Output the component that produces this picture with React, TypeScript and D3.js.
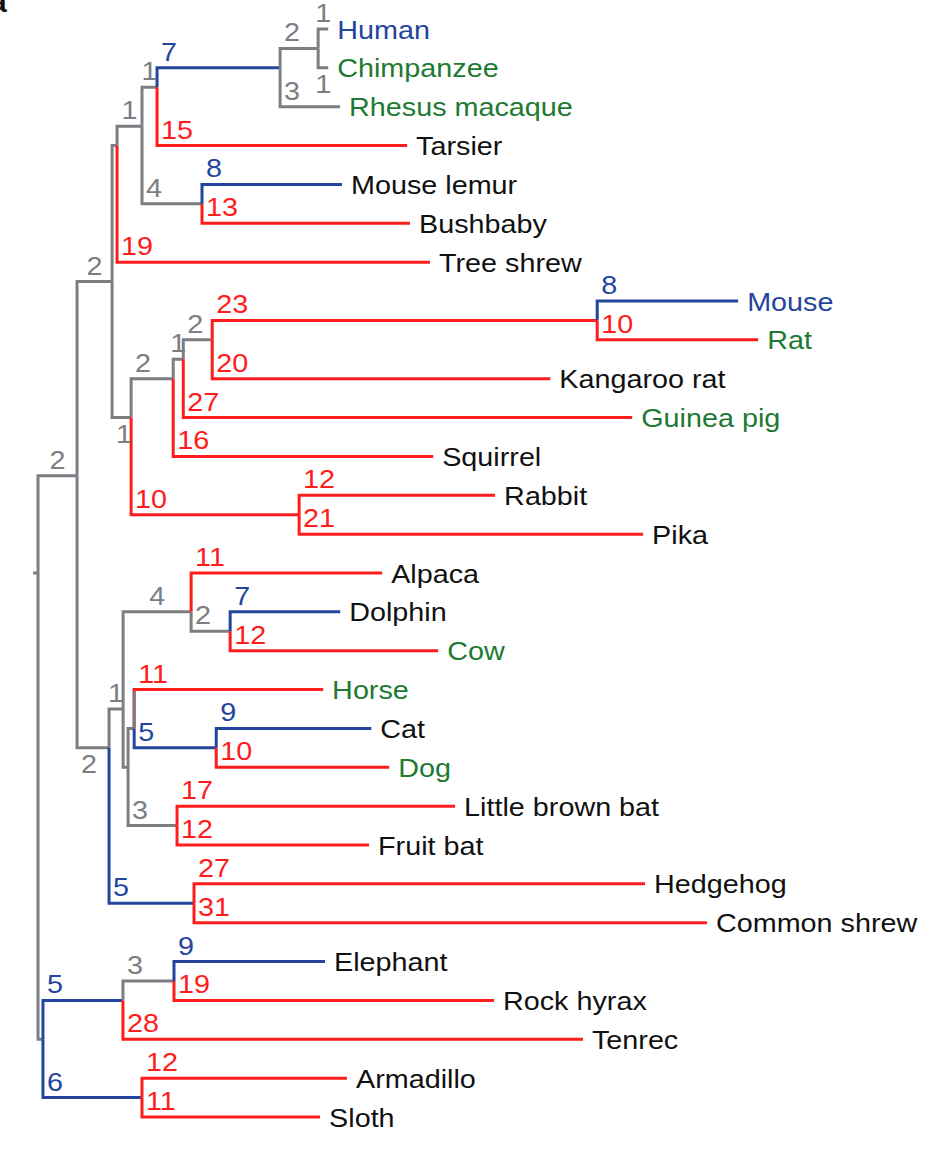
import React from "react";
import * as d3 from "d3";

// ---- Tree data (parallel arrays, DFS order) ----
const nodeIds = [
  "root", "Boreoeutheria", "Euarchontoglires", "Euarchonta", "Primates", "Haplorhini",
  "Anthropoidea", "Hominini", "Human", "Chimpanzee", "Rhesus macaque", "Tarsier",
  "Strepsirrhini", "Mouse lemur", "Bushbaby", "Tree shrew", "Glires", "Rodentia",
  "RodentiaA", "RodentiaB", "Murinae", "Mouse", "Rat", "Kangaroo rat", "Guinea pig",
  "Squirrel", "Lagomorpha", "Rabbit", "Pika", "Laurasiatheria", "Scrotifera",
  "Cetartiodactyla", "Alpaca", "Cetruminantia", "Dolphin", "Cow", "Fereuungulata",
  "Zooamata", "Horse", "Carnivora", "Cat", "Dog", "Chiroptera", "Little brown bat",
  "Fruit bat", "Eulipotyphla", "Hedgehog", "Common shrew", "Atlantogenata",
  "Afrotheria", "Paenungulata", "Elephant", "Rock hyrax", "Tenrec", "Xenarthra",
  "Armadillo", "Sloth",
];
const parentIds = [
  "", "root", "Boreoeutheria", "Euarchontoglires", "Euarchonta", "Primates",
  "Haplorhini", "Anthropoidea", "Hominini", "Hominini", "Anthropoidea", "Haplorhini",
  "Primates", "Strepsirrhini", "Strepsirrhini", "Euarchonta", "Euarchontoglires", "Glires",
  "Rodentia", "RodentiaA", "RodentiaB", "Murinae", "Murinae", "RodentiaB", "RodentiaA",
  "Rodentia", "Glires", "Lagomorpha", "Lagomorpha", "Boreoeutheria", "Laurasiatheria",
  "Scrotifera", "Cetartiodactyla", "Cetartiodactyla", "Cetruminantia", "Cetruminantia", "Scrotifera",
  "Fereuungulata", "Zooamata", "Zooamata", "Carnivora", "Carnivora", "Fereuungulata", "Chiroptera",
  "Chiroptera", "Laurasiatheria", "Eulipotyphla", "Eulipotyphla", "root",
  "Atlantogenata", "Afrotheria", "Paenungulata", "Paenungulata", "Afrotheria", "Atlantogenata",
  "Xenarthra", "Xenarthra",
];
const branchLengths = [
  0, 2.44, 2.19, 0.31, 1.56, 0.94,
  7.69, 2.38, 0.63, 0.63, 3.75, 15.63,
  3.75, 8.75, 13.0, 19.56, 1.19, 2.63,
  0.63, 1.81, 24.06, 8.81, 10.06, 21.13, 28.06,
  16.25, 10.5, 12.25, 21.5, 2.0, 0.88,
  4.25, 11.94, 2.44, 6.88, 13.0, 0.31,
  0.38, 11.81, 5.13, 9.69, 10.81, 3.06, 17.38,
  12.0, 5.31, 28.19, 32.06, 0.31,
  5.0, 3.19, 9.44, 20.0, 28.75, 6.19,
  12.81, 11.13,
];
const branchLabels = [
  "", "2", "2", "", "1", "1",
  "7", "2", "1", "1", "3", "15",
  "4", "8", "13", "19", "1", "2",
  "1", "2", "23", "8", "10", "20", "27",
  "16", "10", "12", "21", "2", "1",
  "4", "11", "2", "7", "12", "",
  "", "11", "5", "9", "10", "3", "17",
  "12", "5", "27", "31", "",
  "5", "3", "9", "19", "28", "6",
  "12", "11",
];
// g = gray, r = red, b = blue
const branchClasses = [
  "g", "g", "g", "g", "g", "g",
  "b", "g", "g", "g", "g", "r",
  "g", "b", "r", "r", "g", "g",
  "g", "g", "r", "b", "r", "r", "r",
  "r", "r", "r", "r", "g", "g",
  "g", "r", "g", "b", "r", "g",
  "g", "r", "b", "b", "r", "g", "r",
  "r", "b", "r", "r", "g",
  "b", "g", "b", "r", "r", "b",
  "r", "r",
];
// label placement: a = above, b = below, m = centred above, n = centred below
const labelPlaces = [
  "a", "m", "m", "a", "m", "m",
  "a", "a", "m", "n", "a", "a",
  "a", "a", "a", "a", "b", "a",
  "m", "a", "a", "a", "a", "a", "a",
  "a", "a", "a", "a", "b", "m",
  "m", "a", "a", "a", "a", "a",
  "a", "a", "a", "a", "a", "a", "a",
  "a", "a", "a", "a", "a",
  "a", "a", "a", "a", "a", "a",
  "a", "a",
];
const blueTaxa = ["Human", "Mouse"];
const greenTaxa = ["Chimpanzee", "Rhesus macaque", "Rat", "Guinea pig", "Cow", "Horse", "Dog"];
const grayConnectors = ["Horse"];

const COLORS: Record<string, string> = { g: "#7b7e83", r: "#ff1c1c", b: "#24459d" };
const GREEN = "#1e7a32";
const BLUE_TXT = "#24459d";
const FONT = "'Liberation Sans', Arial, Helvetica, sans-serif";
const SX = 1.15;

export default function App() {
  const table = nodeIds.map((id, i) => ({
    id,
    parent: parentIds[i],
    len: branchLengths[i],
    label: branchLabels[i],
    cls: branchClasses[i],
    place: labelPlaces[i],
  }));
  const root: any = d3
    .stratify<any>()
    .id((d: any) => d.id)
    .parentId((d: any) => d.parent)(table);

  root.eachBefore((n: any) => {
    n.dist = n.parent ? n.parent.dist + n.data.len : 0;
  });
  const xScale = d3.scaleLinear().domain([0, 45]).range([38, 758]);
  const leaves = root.leaves();
  const yScale = d3.scalePoint<string>().domain(leaves.map((l: any) => l.id)).range([29, 1117]);
  root.eachAfter((n: any) => {
    n.px = xScale(n.dist);
    n.py = n.children ? d3.mean(n.leaves(), (l: any) => yScale(l.id) as number) : (yScale(n.id) as number);
  });

  const nodes = root.descendants().filter((n: any) => n.parent);

  return (
    <div style={{ position: "absolute", left: 0, top: 0 }}>
      <svg width={931} height={1162} style={{ display: "block", background: "#fff" }} fontFamily={FONT}>
        <text x={-10} y={12} fontSize={30} fontWeight="bold" fill="#111">a</text>
        {/* root stub */}
        <path d={`M${root.px - 5},${root.py}H${root.px}`} stroke={COLORS.g} strokeWidth={3} fill="none" />
        {nodes.map((n: any) => (
          <path
            key={"b" + n.id}
            d={`M${n.parent.px},${n.parent.py}V${n.py}H${n.px}`}
            stroke={COLORS[n.data.cls]}
            strokeWidth={3}
            fill="none"
            strokeLinejoin="miter"
          />
        ))}
        {nodes
          .filter((n: any) => grayConnectors.includes(n.id))
          .map((n: any) => (
            <path
              key={"c" + n.id}
              d={`M${n.parent.px},${n.parent.py}V${n.py + (n.py < n.parent.py ? 1.5 : -1.5)}`}
              stroke={COLORS.g}
              strokeWidth={3}
              fill="none"
            />
          ))}
        {nodes
          .filter((n: any) => n.data.label)
          .map((n: any) => {
            const place = n.data.place;
            const centred = place === "m" || place === "n";
            const below = place === "b" || place === "n";
            const tx = centred ? (n.parent.px + n.px) / 2 : n.parent.px + 4;
            const ty = below ? n.py + 25 : n.py - 7;
            return (
              <text
                key={"l" + n.id}
                transform={`translate(${tx},${ty}) scale(${SX},1)`}
                textAnchor={centred ? "middle" : "start"}
                fontSize={25}
                fill={COLORS[n.data.cls]}
              >
                {n.data.label}
              </text>
            );
          })}
        {leaves.map((l: any) => (
          <text
            key={"t" + l.id}
            transform={`translate(${l.px + 9},${l.py + 9.5}) scale(${SX},1)`}
            fontSize={25}
            fill={blueTaxa.includes(l.id) ? BLUE_TXT : greenTaxa.includes(l.id) ? GREEN : "#111"}
          >
            {l.id}
          </text>
        ))}
      </svg>
    </div>
  );
}
